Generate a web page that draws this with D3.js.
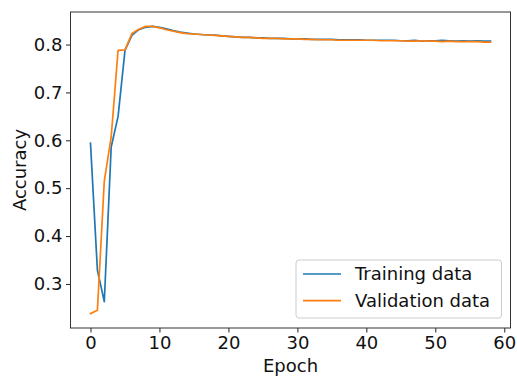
<!DOCTYPE html>
<html>
<head>
<meta charset="utf-8">
<script src="https://cdn.jsdelivr.net/npm/d3@7"></script>
<style>
  html, body { margin: 0; padding: 0; background: #fff; }
  svg { display: block; font-family: "DejaVu Sans", sans-serif; }
</style>
</head>
<body>
<svg id="chart" width="517" height="383"></svg>
<script>
// Accuracy per epoch
const epochs = d3.range(0, 59);
const trainingAcc = [
  0.594, 0.329, 0.263, 0.586, 0.650, 0.788, 0.819, 0.831, 0.836, 0.838,
  0.836, 0.833, 0.829, 0.826, 0.824, 0.822, 0.821, 0.820, 0.820, 0.818,
  0.817, 0.816, 0.815, 0.815, 0.814, 0.814, 0.813, 0.813, 0.813, 0.812,
  0.812, 0.812, 0.811, 0.811, 0.811, 0.811, 0.810, 0.810, 0.810, 0.810,
  0.809, 0.809, 0.809, 0.809, 0.809, 0.808, 0.808, 0.809, 0.807, 0.808,
  0.808, 0.809, 0.808, 0.807, 0.808, 0.807, 0.808, 0.807, 0.807
];
const validationAcc = [
  0.238, 0.245, 0.515, 0.607, 0.788, 0.789, 0.823, 0.832, 0.838, 0.838,
  0.835, 0.831, 0.828, 0.825, 0.823, 0.822, 0.821, 0.820, 0.819, 0.818,
  0.817, 0.816, 0.815, 0.815, 0.814, 0.813, 0.813, 0.813, 0.812, 0.812,
  0.812, 0.811, 0.811, 0.810, 0.810, 0.810, 0.809, 0.809, 0.809, 0.809,
  0.809, 0.809, 0.808, 0.808, 0.808, 0.808, 0.807, 0.807, 0.808, 0.807,
  0.807, 0.806, 0.807, 0.806, 0.806, 0.806, 0.806, 0.805, 0.805
];
const seriesNames = ["Training data", "Validation data"];
const seriesColors = ["#1f77b4", "#ff7f0e"];
const xTicks = [0, 10, 20, 30, 40, 50, 60];
const yTicks = [0.3, 0.4, 0.5, 0.6, 0.7, 0.8];

const svg = d3.select("#chart");
const plot = { left: 70.5, right: 510.5, top: 12, bottom: 328 };

// 5% padding around the data extent on both axes
function padded([lo, hi]) {
  const m = (hi - lo) * 0.05;
  return [lo - m, hi + m];
}
const allY = trainingAcc.concat(validationAcc);
const x = d3.scaleLinear().domain(padded(d3.extent(epochs))).range([plot.left, plot.right]);
const y = d3.scaleLinear().domain(padded(d3.extent(allY))).range([plot.bottom, plot.top]);

const fontSize = 18;

// Axes
const xAxis = d3.axisBottom(x).tickValues(xTicks).tickFormat(d3.format("d"))
  .tickSizeInner(4.5).tickSizeOuter(0).tickPadding(3.5);
const yAxis = d3.axisLeft(y).tickValues(yTicks).tickFormat(d3.format(".1f"))
  .tickSizeInner(4.5).tickSizeOuter(0).tickPadding(3.5);

const gx = svg.append("g").attr("transform", `translate(0,${plot.bottom})`).call(xAxis);
const gy = svg.append("g").attr("transform", `translate(${plot.left},0)`).call(yAxis);
[gx, gy].forEach(g => {
  g.select(".domain").remove();
  g.selectAll(".tick line").attr("stroke", "#222").attr("stroke-width", 1);
  g.selectAll(".tick text").attr("fill", "#111").style("font-size", fontSize + "px")
    .style("font-family", "DejaVu Sans, sans-serif");
});

// Lines
const line = d3.line().x((d, i) => x(epochs[i])).y(d => y(d));
[trainingAcc, validationAcc].forEach((s, k) => {
  svg.append("path")
    .datum(s)
    .attr("fill", "none")
    .attr("stroke", seriesColors[k])
    .attr("stroke-width", 1.7)
    .attr("stroke-linejoin", "round")
    .attr("stroke-linecap", "square")
    .attr("d", line);
});

// Frame
svg.append("rect")
  .attr("x", plot.left).attr("y", plot.top)
  .attr("width", plot.right - plot.left).attr("height", plot.bottom - plot.top)
  .attr("fill", "none").attr("stroke", "#333").attr("stroke-width", 1);

// Axis titles
svg.append("text")
  .attr("x", (plot.left + plot.right) / 2).attr("y", 372)
  .attr("text-anchor", "middle").attr("fill", "#111")
  .style("font-size", fontSize + "px").text("Epoch");
svg.append("text")
  .attr("transform", `translate(25.5,${(plot.top + plot.bottom) / 2}) rotate(-90)`)
  .attr("text-anchor", "middle").attr("fill", "#111")
  .style("font-size", fontSize + "px").text("Accuracy");

// Legend
const legend = svg.append("g");
legend.append("rect")
  .attr("x", 296).attr("y", 260).attr("width", 205.5).attr("height", 58)
  .attr("rx", 3).attr("ry", 3)
  .attr("fill", "#fff").attr("fill-opacity", 0.8)
  .attr("stroke", "#ccc").attr("stroke-width", 1);
seriesNames.forEach((name, k) => {
  const cy = 274 + k * 26.7;
  legend.append("line")
    .attr("x1", 303).attr("x2", 341).attr("y1", cy).attr("y2", cy)
    .attr("stroke", seriesColors[k]).attr("stroke-width", 1.7);
  legend.append("text")
    .attr("x", 355).attr("y", cy).attr("dy", "0.36em")
    .attr("fill", "#111").style("font-size", fontSize + "px").text(name);
});
</script>
</body>
</html>
